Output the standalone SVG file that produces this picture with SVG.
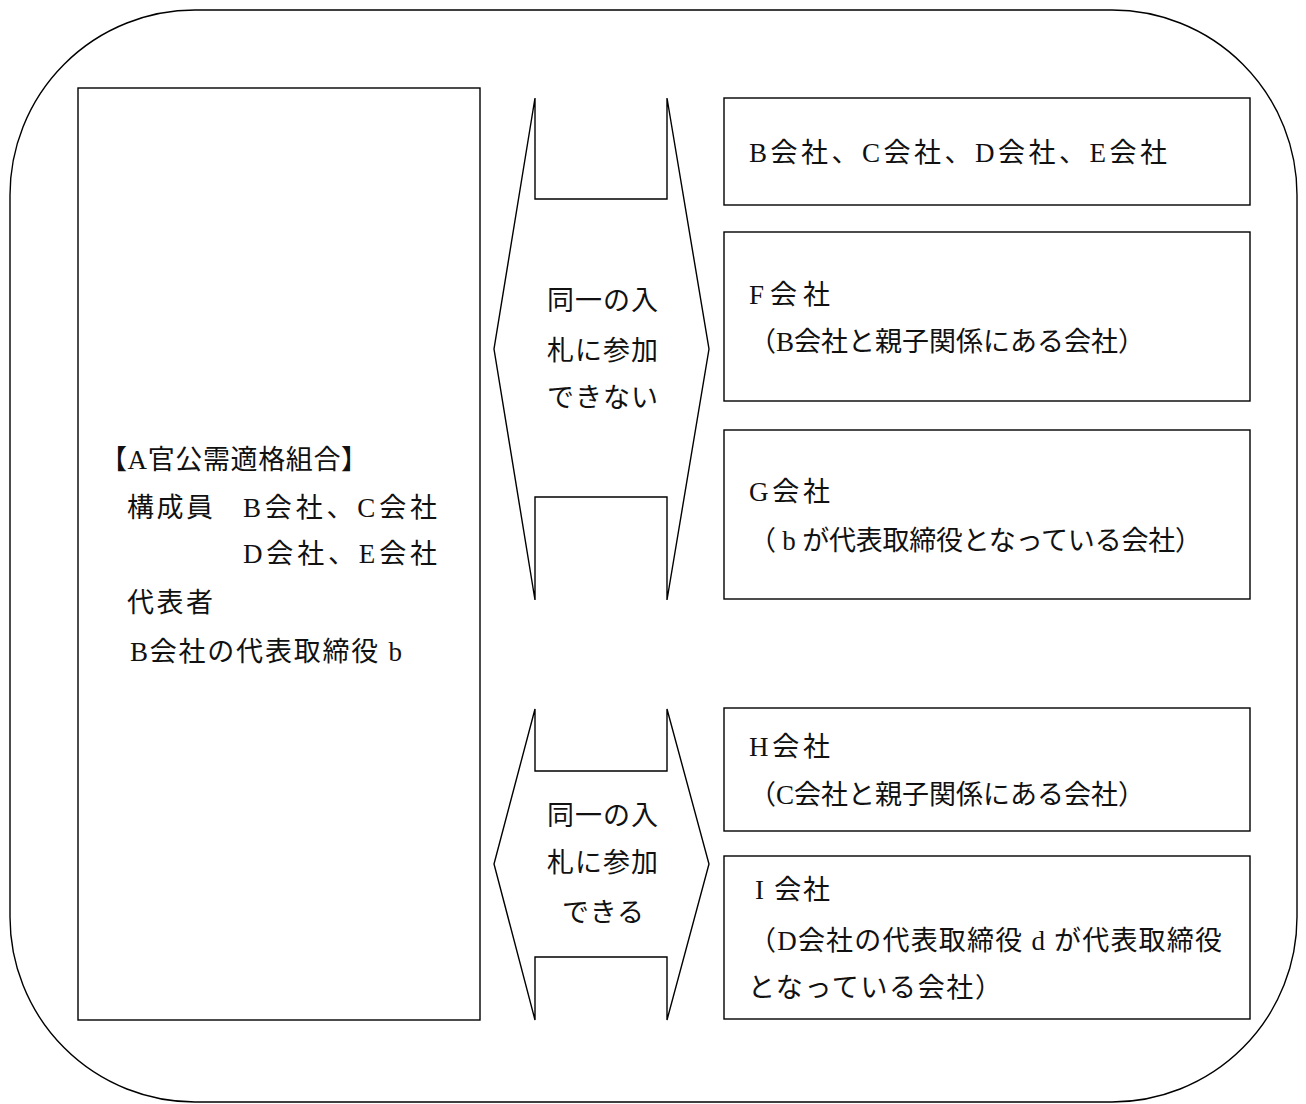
<svg xmlns="http://www.w3.org/2000/svg" width="1306" height="1104" viewBox="0 0 1306 1104">
<style>
.s{fill:#fff;stroke:#000;stroke-width:1.4}
.t{font-family:"Liberation Serif","Noto Sans CJK JP",serif;font-size:27px;fill:#111}
</style>
<rect width="1306" height="1104" fill="#fff"/>
<g id="frame"><rect class="s" x="10" y="10" width="1287" height="1092" rx="185" ry="185"/></g>
<g id="union">
<rect class="s" x="78" y="88" width="402" height="932"/>
<text class="t" x="100" y="469" textLength="268" lengthAdjust="spacing">【A官公需適格組合】</text>
<text class="t" x="127" y="517" textLength="86" lengthAdjust="spacing">構成員</text>
<text class="t" x="243" y="517" textLength="194" lengthAdjust="spacing">B会社、C会社</text>
<text class="t" x="243" y="563" textLength="194" lengthAdjust="spacing">D会社、E会社</text>
<text class="t" x="127" y="612" textLength="86" lengthAdjust="spacing">代表者</text>
<text class="t" x="130" y="661" textLength="272" lengthAdjust="spacing">B会社の代表取締役 b</text>
</g>
<g id="connectors">
<g id="arrow-no">
<path class="s" d="M535,98 V199 H667 V98 L709,349 L667,600 V497 H535 V600 L494,349 Z"/>
<text class="t" x="547" y="310" textLength="111" lengthAdjust="spacing">同一の入</text>
<text class="t" x="547" y="360" textLength="111" lengthAdjust="spacing">札に参加</text>
<text class="t" x="547" y="407" textLength="111" lengthAdjust="spacing">できない</text>
</g>
<g id="arrow-yes">
<path class="s" d="M535,709 V771 H667 V709 L709,864 L667,1020 V957 H535 V1020 L494,864 Z"/>
<text class="t" x="547" y="825" textLength="111" lengthAdjust="spacing">同一の入</text>
<text class="t" x="547" y="872" textLength="111" lengthAdjust="spacing">札に参加</text>
<text class="t" x="562" y="922" textLength="82" lengthAdjust="spacing">できる</text>
</g>
</g>
<g id="box-bcde">
<rect class="s" x="724" y="98" width="526" height="107"/>
<text class="t" x="749" y="162" textLength="418" lengthAdjust="spacing">B会社、C会社、D会社、E会社</text>
</g>
<g id="box-f">
<rect class="s" x="724" y="232" width="526" height="169"/>
<text class="t" x="749" y="304" textLength="81" lengthAdjust="spacing">F会社</text>
<text class="t" x="749" y="351" textLength="396" lengthAdjust="spacing">（B会社と親子関係にある会社）</text>
</g>
<g id="box-g">
<rect class="s" x="724" y="430" width="526" height="169"/>
<text class="t" x="749" y="501" textLength="81" lengthAdjust="spacing">G会社</text>
<text class="t" x="749" y="550" textLength="453" lengthAdjust="spacing">（ b が代表取締役となっている会社）</text>
</g>
<g id="box-h">
<rect class="s" x="724" y="708" width="526" height="123"/>
<text class="t" x="749" y="756" textLength="81" lengthAdjust="spacing">H会社</text>
<text class="t" x="749" y="804" textLength="396" lengthAdjust="spacing">（C会社と親子関係にある会社）</text>
</g>
<g id="box-i">
<rect class="s" x="724" y="856" width="526" height="163"/>
<text class="t" x="755" y="899" textLength="75" lengthAdjust="spacing">I 会社</text>
<text class="t" x="749" y="950" textLength="473" lengthAdjust="spacing">（D会社の代表取締役 d が代表取締役</text>
<text class="t" x="748" y="997" textLength="254" lengthAdjust="spacing">となっている会社）</text>
</g>
</svg>
